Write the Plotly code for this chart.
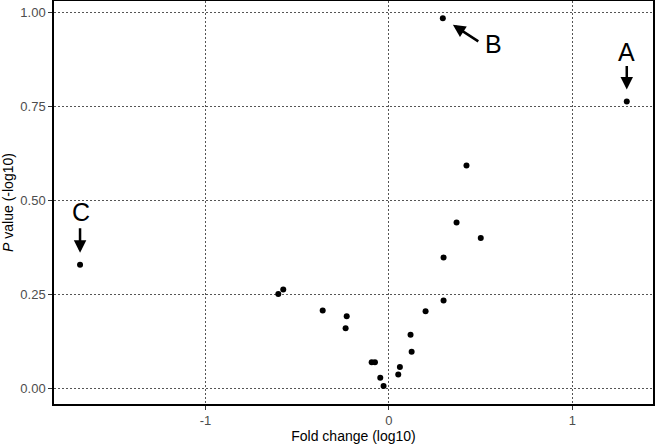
import plotly.graph_objects as go

# fold change (log10) and p value (-log10) for each gene
fold_change = [-1.684, -0.603, -0.576, -0.361, -0.230, -0.236, -0.094, -0.076, -0.047, -0.029,
               0.051, 0.060, 0.124, 0.118, 0.200, 0.298, 0.298, 0.369, 0.501, 0.423, 0.294, 1.297]
p_value = [0.330, 0.252, 0.264, 0.208, 0.193, 0.161, 0.071, 0.071, 0.030, 0.008,
           0.038, 0.058, 0.099, 0.144, 0.206, 0.235, 0.349, 0.442, 0.401, 0.593, 0.984, 0.763]

x_ticks = [-1, 0, 1]
x_ticktext = ['-1', '0', '1']
y_ticks = [0, 0.25, 0.5, 0.75, 1.0]

# labelled points: label, x, y, arrow tail offset (px), text offset (px)
labels = ['A', 'B', 'C']
label_x = [1.297, 0.294, -1.684]
label_y = [0.763, 0.984, 0.330]
arrow_ax = [0, 37, 0]
arrow_ay = [-37, 24, -38]
text_dx = [0, 51, 1]
text_dy = [50, -26, 53]

fig = go.Figure(go.Scatter(
    x=fold_change, y=p_value, mode='markers',
    marker=dict(color='black', size=6),
    hoverinfo='x+y',
))

for lab, x, y, ax, ay, dx, dy in zip(labels, label_x, label_y, arrow_ax, arrow_ay, text_dx, text_dy):
    # arrow
    fig.add_annotation(x=x, y=y, text='', showarrow=True, ax=ax, ay=ay,
                       arrowhead=2, arrowsize=1, arrowwidth=2.5, arrowcolor='black',
                       standoff=12)
    # letter
    fig.add_annotation(x=x, y=y, text=lab, showarrow=False, xshift=dx, yshift=dy,
                       font=dict(size=25, color='black', family='Liberation Sans, Arial'))

axis_style = dict(
    automargin=False,
    showline=True, linecolor='black', linewidth=1.5, mirror=True,
    showgrid=True, gridcolor='#555555', gridwidth=1, griddash='1.5px,2.5px',
    zeroline=False, ticks='outside', ticklen=4, tickcolor='#333333',
    tickfont=dict(size=13, color='#4d4d4d'),
)

fig.update_xaxes(axis_style, range=[-1.826, 1.44], tickvals=x_ticks, ticktext=x_ticktext,
                 title=dict(text='Fold change (log10)', font=dict(size=14, color='black'), standoff=4))
fig.update_yaxes(axis_style, range=[-0.04, 1.03], tickvals=y_ticks,
                 tickformat='.2f',
                 title=dict(text='<i>P</i> value (-log10)', font=dict(size=14, color='black'), standoff=6))

fig.update_layout(
    width=655, height=444,
    margin=dict(l=54, r=2, t=1, b=40),
    paper_bgcolor='white', plot_bgcolor='white',
    font=dict(family='Liberation Sans, Arial'),
    showlegend=False,
)

# remove the default page margin so the figure sits at the window corner
fig.write_html("out.html", config={'displayModeBar': False},
               post_script="document.body.style.margin='0px';")
